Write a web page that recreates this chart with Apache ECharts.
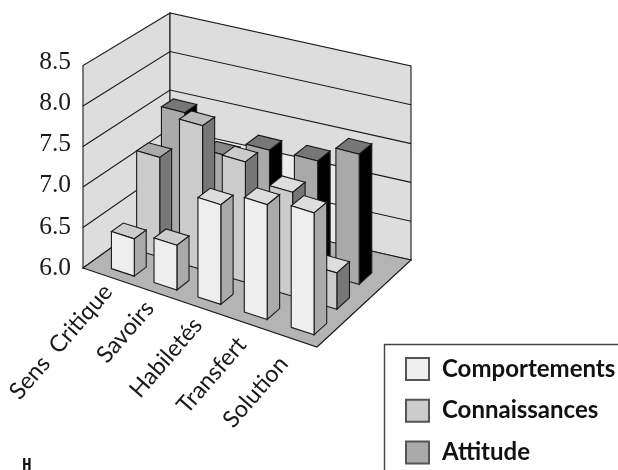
<!DOCTYPE html>
<html>
<head>
<meta charset="utf-8">
<style>html,body{margin:0;padding:0;background:#fff}#c{width:618px;height:470px}</style>
<script src="https://cdn.jsdelivr.net/npm/echarts@6/dist/echarts.min.js"></script>
</head>
<body>
<div id="c"></div>
<script>
// Chart data
const categories = ['Sens  Critique', 'Savoirs', 'Habiletés', 'Transfert', 'Solution'];
const comportements = [6.46, 6.55, 7.22, 7.40, 7.48];
const connaissances = [7.25, 7.80, 7.50, 7.29, 6.45];
const attitude = [7.60, 7.19, 7.40, 7.42, 7.64];
const valueTicks = [6.0, 6.5, 7.0, 7.5, 8.0, 8.5];

// Screen layout of the oblique view (floor corners, in canvas pixels)
const FL = { x: 83, y: 268 }, BL = { x: 170, y: 205.5 }, BR = { x: 411, y: 260 }, FR = { x: 317, y: 347 };
// pixels per value unit at each floor corner
const SCALE = { fl: 81, bl: 77, br: 77.6, fr: 83 };
const PLOT_UNIT = 82.4;
const BAR_W = 0.0975, BAR_D = 0.135;
const ROW_V = [0.095, 0.38, 0.66];
const COL_STEP = 0.193, COL_START = 0.0855;
const COL_SHEAR = [-0.004, -0.002, 0.02, 0.012, 0.058];
// Fine placement of the slanted category names relative to their column
const LABEL_DX = [5, 4, 8, 6, 0];
const LABEL_DY = [13, 15, 17, 21, 24];

const lerp4 = (a, b, c, d, u, v) => a * (1 - u) * (1 - v) + b * u * (1 - v) + c * u * v + d * (1 - u) * v;

// Floor position (u along the front, v in depth) plus a value -> point in grid units
function project(u, v, val) {
  const px = lerp4(FL.x, FR.x, BR.x, BL.x, u, v);
  const py = lerp4(FL.y, FR.y, BR.y, BL.y, u, v);
  const s = lerp4(SCALE.fl, SCALE.fr, SCALE.br, SCALE.bl, u, v);
  return [(px - FL.x) / (BR.x - FL.x), 6 + ((FL.y - py) + (val - 6) * s) / PLOT_UNIT];
}
const columnU = (i, v) => {
  const t = i / 4;
  return COL_START + i * COL_STEP + 0.06 * t * (t - 1) - COL_SHEAR[i] * v;
};

function face(api, pts, fill) {
  return {
    type: 'polygon',
    shape: { points: pts.map(p => api.coord(p)) },
    style: { fill, stroke: '#1a1a1a', lineWidth: 1.1, lineJoin: 'miter' }
  };
}

function barSeries(name, values, row, colors) {
  return {
    name, type: 'custom', coordinateSystem: 'cartesian2d', silent: true,
    itemStyle: { color: colors.front, borderColor: '#555', borderWidth: 1 },
    data: values.map((val, i) => [i, val]),
    encode: { x: 0, y: 1 },
    renderItem(params, api) {
      const i = api.value(0), val = api.value(1), v = ROW_V[row];
      const u = columnU(i, v), u2 = u + BAR_W, v2 = v + BAR_D;
      return {
        type: 'group',
        children: [
          face(api, [project(u, v, val), project(u2, v, val), project(u2, v2, val), project(u, v2, val)], colors.top[i]),
          face(api, [project(u2, v, 6), project(u2, v2, 6), project(u2, v2, val), project(u2, v, val)], colors.side),
          face(api, [project(u, v, 6), project(u2, v, 6), project(u2, v, val), project(u, v, val)], colors.front)
        ]
      };
    }
  };
}

// Walls, floor and the value gridlines behind the bars
const shellSeries = {
  type: 'custom', coordinateSystem: 'cartesian2d', silent: true,
  data: [[0, 6]],
  renderItem(params, api) {
    const top = valueTicks[valueTicks.length - 1];
    const wall = (a, b, c, d) => face(api, [a, b, c, d], '#dddddd');
    const shade = [project(0.145, 1, 6), project(0.705, 1, 6), project(0.705, 1, 7), project(0.145, 1, 7)];
    const children = [
      wall(project(0, 0, 6), project(0, 1, 6), project(0, 1, top), project(0, 0, top)),
      wall(project(0, 1, 6), project(1, 1, 6), project(1, 1, top), project(0, 1, top)),
      { type: 'polygon', shape: { points: shade.map(p => api.coord(p)) }, style: { fill: '#ececec' } },
      face(api, [project(0, 0, 6), project(1, 0, 6), project(1, 1, 6), project(0, 1, 6)], '#b4b4b4')
    ];
    valueTicks.slice(1, -1).forEach(t => {
      const pts = [project(0, 0, t), project(0, 1, t), project(1, 1, t)].map(p => api.coord(p));
      children.push({ type: 'polyline', shape: { points: pts }, style: { fill: null, stroke: '#1a1a1a', lineWidth: 1.1 } });
    });
    return { type: 'group', children };
  }
};

// Slanted category names under the front edge of the floor
const labelSeries = {
  type: 'custom', coordinateSystem: 'cartesian2d', silent: true,
  data: categories.map((c, i) => [i, 6]),
  renderItem(params, api) {
    const i = api.value(0);
    const p = api.coord(project(columnU(i, 0), 0, 6));
    return {
      type: 'text',
      x: p[0] + LABEL_DX[i], y: p[1] + LABEL_DY[i],
      rotation: 49 * Math.PI / 180,
      style: {
        x: 0, y: 0,
        text: categories[i], align: 'right', verticalAlign: 'middle',
        font: '23.5px Lato', fill: '#1a1a1a'
      }
    };
  }
};

const chart = echarts.init(document.getElementById('c'), null, { renderer: 'canvas' });
chart.setOption({
  animation: false,
  backgroundColor: '#ffffff',
  grid: { left: 83, right: 207, top: 62, bottom: 202 },
  xAxis: { type: 'value', min: 0, max: 1, show: false },
  yAxis: {
    type: 'value', min: valueTicks[0], max: valueTicks[valueTicks.length - 1], interval: 0.5,
    axisLine: { show: false }, axisTick: { show: false }, splitLine: { show: false },
    axisLabel: {
      margin: 12, fontFamily: 'Liberation Serif', fontSize: 25.5, color: '#1a1a1a',
      formatter: v => v.toFixed(1)
    }
  },
  title: {
    text: 'H', left: 17, top: 453,
    textStyle: { fontFamily: 'DejaVu Sans Mono', fontWeight: 'bold', fontSize: 16, color: '#111' }
  },
  legend: {
    left: 405, top: 357, orient: 'vertical', padding: 0, height: 120,
    data: ['Comportements', 'Connaissances', 'Attitude'],
    icon: 'rect', itemWidth: 23, itemHeight: 22, itemGap: 17.7, selectedMode: false,
    textStyle: { fontFamily: 'Lato', fontWeight: 'bold', fontSize: 24, color: '#111', padding: [0, 0, 0, 8], lineHeight: 22 }
  },
  graphic: [{
    type: 'rect', z: -1, silent: true,
    shape: { x: 384.5, y: 344.5, width: 320, height: 200 },
    style: { fill: '#fff', stroke: '#444', lineWidth: 1.4 }
  }],
  series: [
    shellSeries,
    labelSeries,
    barSeries('Attitude', attitude, 2, { front: '#aaaaaa', side: '#000000', top: ['#777777', '#888888', '#777777', '#777777', '#777777'] }),
    barSeries('Connaissances', connaissances, 1, { front: '#cccccc', side: '#777777', top: ['#aaaaaa', '#bbbbbb', '#cccccc', '#dddddd', '#dddddd'] }),
    barSeries('Comportements', comportements, 0, { front: '#eeeeee', side: '#aaaaaa', top: ['#cccccc', '#cccccc', '#dddddd', '#dddddd', '#dddddd'] })
  ]
});
</script>
</body>
</html>
